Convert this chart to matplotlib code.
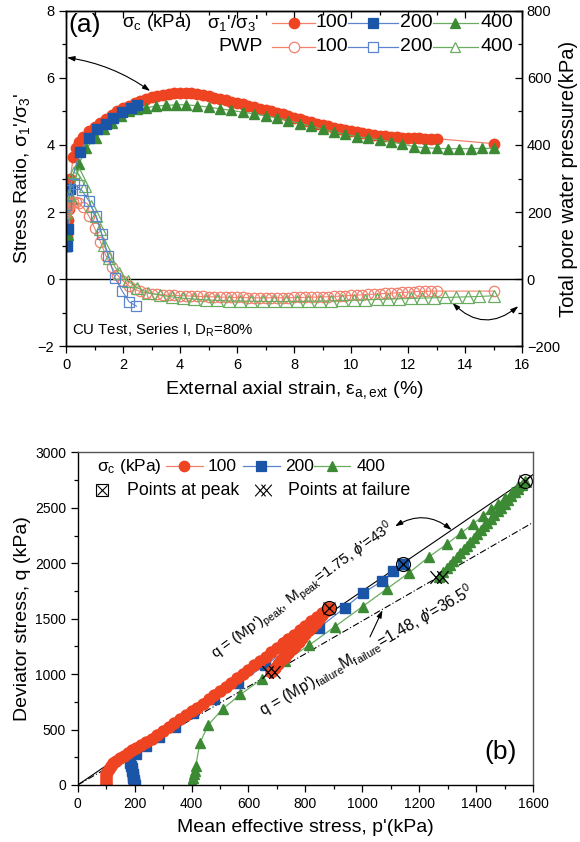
import matplotlib
matplotlib.use("Agg")
import matplotlib.pyplot as plt
from matplotlib.path import Path
from matplotlib.ticker import MultipleLocator

plt.rcParams["font.family"] = ["Liberation Sans", "DejaVu Sans"]
plt.rcParams["mathtext.fontset"] = "custom"
plt.rcParams["mathtext.rm"] = "Liberation Sans"
plt.rcParams["mathtext.it"] = "Liberation Sans:italic"
plt.rcParams["mathtext.bf"] = "Liberation Sans:bold"

# ---------------- data, panel (a) ----------------
# strain (%) for the 100 kPa test, stress ratio and total pore water pressure (kPa)
strain_100 = [0, 0.03, 0.06, 0.1, 0.15, 0.25, 0.35, 0.45, 0.6, 0.8, 1.0,
              1.2, 1.4, 1.6, 1.8, 2.0, 2.2, 2.4, 2.6, 2.8, 3.0,
              3.2, 3.4, 3.6, 3.8, 4.0, 4.2, 4.4, 4.6, 4.8, 5.0,
              5.2, 5.4, 5.6, 5.8, 6.0, 6.2, 6.4, 6.6, 6.8, 7.0,
              7.2, 7.4, 7.6, 7.8, 8.0, 8.2, 8.4, 8.6, 8.8, 9.0,
              9.2, 9.4, 9.6, 9.8, 10.0, 10.2, 10.4, 10.6, 10.8, 11.0,
              11.2, 11.4, 11.6, 11.8, 12.0, 12.2, 12.4, 12.6, 12.8, 13.0,
              15.0]
ratio_100 = [1.0, 1.25, 1.75, 2.1, 3.0, 3.65, 3.92, 4.08, 4.25, 4.42, 4.55,
             4.67, 4.79, 4.9, 5.0, 5.09, 5.17, 5.25, 5.32, 5.38, 5.43,
             5.47, 5.5, 5.53, 5.55, 5.56, 5.56, 5.54, 5.52, 5.49, 5.45,
             5.41, 5.37, 5.33, 5.29, 5.25, 5.21, 5.17, 5.12, 5.08, 5.04,
             5.0, 4.95, 4.91, 4.86, 4.82, 4.77, 4.73, 4.68, 4.64, 4.6,
             4.56, 4.52, 4.48, 4.44, 4.41, 4.38, 4.35, 4.32, 4.3, 4.28,
             4.26, 4.24, 4.23, 4.22, 4.21, 4.2, 4.2, 4.19, 4.19, 4.19,
             4.04]
pwp_100 = [200, 205, 212, 218, 224, 229, 231, 226, 214, 188, 152,
           112, 69, 36, 12, -6, -20, -31, -37, -41, -44,
           -46, -47, -48, -49, -50, -50, -51, -52, -52, -53,
           -53, -54, -54, -55, -55, -55, -56, -56, -56, -56,
           -56, -56, -56, -56, -55, -55, -55, -54, -54, -53,
           -53, -52, -51, -50, -49, -48, -47, -46, -45, -44,
           -43, -42, -41, -40, -39, -38, -37, -37, -36, -36,
           -36]

strain_200 = [0, 0.02, 0.06, 0.12, 0.48, 0.8, 1.09, 1.39, 1.65, 1.97, 2.26, 2.49]
ratio_200 = [1.0, 0.98, 1.48, 2.7, 3.8, 4.22, 4.47, 4.64, 4.8, 4.97, 5.11, 5.19]
strain_pwp_200 = [0, 0.08, 0.29, 0.55, 0.8, 1.04, 1.26, 1.48, 1.71, 1.97, 2.21, 2.47]
pwp_200 = [220, 265, 283, 265, 233, 188, 133, 69, 4, -36, -68, -81]

strain_400 = [0, 0.08, 0.2, 0.44, 0.71, 1.04, 1.32, 1.62, 1.91, 2.19, 2.49, 2.82,
              3.14, 3.5, 3.85, 4.2, 4.6, 5.0, 5.4, 5.8, 6.2, 6.6, 7.0, 7.4, 7.8,
              8.2, 8.6, 9.0, 9.4, 9.8, 10.2, 10.6, 11.0, 11.4, 11.8, 12.2, 12.6,
              13.0, 13.4, 13.8, 14.2, 14.6, 15.0]
ratio_400 = [1.0, 1.3, 2.4, 3.42, 3.92, 4.2, 4.47, 4.67, 4.87, 5.0, 5.06, 5.11,
             5.16, 5.18, 5.2, 5.2, 5.17, 5.13, 5.08, 5.03, 4.98, 4.93, 4.87, 4.81, 4.73,
             4.64, 4.56, 4.47, 4.39, 4.32, 4.25, 4.2, 4.15, 4.1, 4.03, 3.95, 3.92,
             3.9, 3.89, 3.89, 3.89, 3.9, 3.9]
strain_pwp_400 = [0, 0.1, 0.26, 0.44, 0.68, 0.87, 1.06, 1.2, 1.32, 1.52, 1.84, 2.17,
                  2.49, 2.88, 3.3, 3.7, 4.1, 4.5, 4.9, 5.3, 5.7, 6.1, 6.5, 6.9, 7.3,
                  7.7, 8.1, 8.5, 8.9, 9.3, 9.7, 10.1, 10.5, 10.9, 11.3, 11.7, 12.1,
                  12.5, 12.9, 13.3, 13.7, 14.1, 14.5, 15.0]
pwp_400 = [200, 250, 319, 312, 278, 218, 188, 150, 103, 64, 19, -6,
           -26, -41, -48, -53, -57, -60, -62, -64, -65, -66, -66, -67, -67,
           -67, -67, -66, -66, -65, -64, -63, -62, -61, -60, -59, -58,
           -57, -56, -55, -54, -53, -52, -50]

# ---------------- data, panel (b) ----------------
p_100 = [100, 99, 98, 99, 101, 104, 109, 116, 125, 136, 148, 161, 175, 190, 206, 222, 240,
         260, 280, 300, 320, 340, 360, 380, 400, 420, 440, 460, 480, 500, 520, 540, 560,
         580, 600, 620, 640, 660, 680, 700, 720, 740, 760, 780, 800, 820, 840, 860, 884,
         872, 860, 848, 836, 824, 812, 800, 788, 776, 764, 752, 740, 728, 716, 704, 692,
         682, 679]
q_100 = [0, 20, 45, 70, 95, 120, 145, 170, 195, 220, 243, 266, 290, 314, 338, 362, 390,
         419, 454, 489, 523, 558, 592, 627, 664, 699, 735, 773, 811, 850, 887, 923, 963,
         1000, 1038, 1079, 1117, 1155, 1197, 1239, 1278, 1317, 1357, 1396, 1436, 1476, 1512, 1552, 1600,
         1565, 1530, 1496, 1462, 1428, 1394, 1360, 1326, 1292, 1258, 1224, 1190, 1157, 1124, 1091, 1058,
         1030, 1021]
p_200 = [200, 199, 198, 197, 196, 195, 193, 191, 189, 186, 185, 206, 239, 286, 341, 406,
         478, 564, 658, 752, 849, 939, 1003, 1070, 1109, 1142]
q_200 = [0, 15, 30, 45, 60, 80, 100, 125, 150, 175, 201, 279, 354, 435, 525, 646,
         772, 919, 1078, 1252, 1420, 1600, 1733, 1838, 1928, 1997]
p_400 = [400, 401, 403, 405, 408, 411, 415, 429, 458, 509, 572, 648, 729, 813, 904, 1001,
         1088, 1165, 1234, 1296, 1347, 1390, 1423, 1451, 1476, 1501, 1525, 1548, 1572,
         1560, 1548, 1536, 1524, 1512, 1500, 1488, 1476, 1464, 1452, 1440, 1428, 1416,
         1404, 1392, 1380, 1368, 1356, 1344, 1332, 1320, 1308, 1296, 1284, 1272, 1269]
q_400 = [0, 15, 30, 60, 95, 129, 174, 375, 540, 685, 817, 958, 1117, 1261, 1429, 1610,
         1772, 1916, 2057, 2171, 2273, 2357, 2423, 2486, 2537, 2591, 2642, 2694, 2741,
         2707, 2673, 2639, 2605, 2571, 2537, 2503, 2468, 2434, 2400, 2366, 2332, 2298,
         2263, 2229, 2195, 2160, 2126, 2091, 2057, 2022, 1988, 1954, 1920, 1885, 1877]
peak_p = [884, 1142, 1572]
peak_q = [1600, 1997, 2741]
fail_p = [679, 1269]
fail_q = [1021, 1877]
M_peak = 1.75
M_fail = 1.48
p_line = [0, 1600]

RED, RED_L = "#ee4422", "#f2806c"
BLUE, BLUE_L = "#1a55a8", "#5a84cc"
GREEN, GREEN_L = "#3d8a35", "#6aac60"

fail_marker = Path([(-1, -0.7), (0.25, 0.7), (-1, 0.7), (0.25, -0.7),
                    (-0.25, -0.7), (1, 0.7), (-0.25, 0.7), (1, -0.7)],
                   [Path.MOVETO, Path.LINETO] * 4)

fig = plt.figure(figsize=(5.8, 8.42), dpi=100)

# ================= panel (a) =================
ax = fig.add_axes([0.114, 0.589, 0.786, 0.398])
axr = ax.twinx()
ax.set_xlim(0, 16)
ax.set_ylim(-2, 8)
axr.set_ylim(-200, 800)
ax.axhline(0, color="k", lw=1.0)

ax.plot(strain_100, ratio_100, color=RED_L, lw=0.9, marker="o", ms=7.5, mfc=RED, mec=RED)
ax.plot(strain_400, ratio_400, color=GREEN_L, lw=0.9, marker="^", ms=7.5, mfc=GREEN, mec=GREEN)
ax.plot(strain_200, ratio_200, color=BLUE_L, lw=0.9, marker="s", ms=6.5, mfc=BLUE, mec=BLUE)

axr.plot(strain_100, pwp_100, color=RED_L, lw=0.8, marker="o", ms=7.5, mfc="none", mec=RED_L, mew=0.9)
axr.plot(strain_pwp_400, pwp_400, color=GREEN_L, lw=0.8, marker="^", ms=8.5, mfc="none", mec=GREEN_L, mew=0.9)
axr.plot(strain_pwp_200, pwp_200, color=BLUE_L, lw=0.8, marker="s", ms=7, mfc="none", mec=BLUE_L, mew=0.9)

ax.xaxis.set_major_locator(MultipleLocator(2))
ax.xaxis.set_minor_locator(MultipleLocator(1))
ax.yaxis.set_major_locator(MultipleLocator(2))
ax.yaxis.set_minor_locator(MultipleLocator(1))
axr.yaxis.set_major_locator(MultipleLocator(200))
axr.yaxis.set_minor_locator(MultipleLocator(100))
ax.tick_params(which="both", direction="out", labelsize=10.5, width=0.9)
ax.tick_params(which="major", length=5)
ax.tick_params(which="minor", length=3)
axr.tick_params(which="both", direction="in", labelsize=10.5, width=0.9)
axr.tick_params(which="major", length=5)
axr.tick_params(which="minor", length=3)
top = ax.secondary_xaxis("top")
top.xaxis.set_major_locator(MultipleLocator(2))
top.xaxis.set_minor_locator(MultipleLocator(1))
top.tick_params(which="both", direction="in", labeltop=False, width=0.9)
top.tick_params(which="major", length=5)
top.tick_params(which="minor", length=3)
for a in (ax, axr):
    for s in a.spines.values():
        s.set_linewidth(1.0)

ax.set_xlabel("External axial strain, ε$_\\mathrm{a,ext}$ (%)", fontsize=14)
ax.xaxis.set_label_coords(0.501, -0.1)
ax.set_ylabel("Stress Ratio, σ$_1$'/σ$_3$'", fontsize=14)
ax.yaxis.set_label_coords(-0.075, 0.5)
axr.set_ylabel("Total pore water pressure(kPa)", fontsize=14.5, rotation=90)
axr.yaxis.set_label_coords(1.081, 0.5)

ax.text(0.005, 0.958, "(a)", transform=ax.transAxes, fontsize=19, va="center", ha="left")
ax.text(0.2, -1.52, "CU Test, Series I, D$_\\mathrm{R}$=80%", fontsize=10.8, va="center")

ax.annotate("", xy=(0.03, 6.61), xytext=(2.95, 5.61),
            arrowprops=dict(arrowstyle="<|-|>,head_length=0.45,head_width=0.15",
                            color="k", lw=0.8, connectionstyle="arc3,rad=0.12",
                            shrinkA=0, shrinkB=0))
ax.annotate("", xy=(15.87, -0.81), xytext=(13.56, -0.71),
            arrowprops=dict(arrowstyle="<|-|>,head_length=0.45,head_width=0.15",
                            color="k", lw=0.8, connectionstyle="arc3,rad=0.45",
                            shrinkA=0, shrinkB=0))


def sample(axis, x0, x1, y, color, lcolor, marker, filled, ms=7.5):
    axis.plot([x0, x1], [y, y], color=lcolor, lw=0.9, transform=axis.transAxes, clip_on=False)
    axis.plot([(x0 + x1) / 2], [y], ls="none", marker=marker, ms=ms,
              mfc=color if filled else "white", mec=color, mew=0.9,
              transform=axis.transAxes, clip_on=False)


# legend (a)
y1, y2 = 0.965, 0.893
axr.text(0.123, y1, "σ$_\\mathrm{c}$ (kPa)", transform=ax.transAxes, fontsize=13.5, va="center")
axr.text(0.309, y1, "σ$_1$'/σ$_3$'", transform=ax.transAxes, fontsize=13.5, va="center")
axr.text(0.432, y2, "PWP", transform=ax.transAxes, fontsize=14, va="center", ha="right")
leg_x = [(0.452, 0.546), (0.618, 0.728), (0.805, 0.903)]
leg_txt = [0.546, 0.732, 0.908]
leg_lab = ["100", "200", "400"]
leg_col = [(RED, RED_L, "o"), (BLUE, BLUE_L, "s"), (GREEN, GREEN_L, "^")]
for (x0, x1), xt, lab, (c, lc, m) in zip(leg_x, leg_txt, leg_lab, leg_col):
    sample(axr, x0, x1, y1, c, lc, m, True)
    sample(axr, x0, x1, y2, lc, lc, m, False)
    axr.text(xt, y1, lab, transform=ax.transAxes, fontsize=14, va="center")
    axr.text(xt, y2, lab, transform=ax.transAxes, fontsize=14, va="center")

# ================= panel (b) =================
bx = fig.add_axes([0.134, 0.0677, 0.785, 0.395])
bx.set_xlim(0, 1600)
bx.set_ylim(0, 3000)

bx.plot(p_line, [M_peak * p for p in p_line], color="k", lw=0.8)
bx.plot(p_line, [M_fail * p for p in p_line], color="k", lw=0.8, ls=(0, (6, 2, 1, 2)))

bx.plot(p_400, q_400, color=GREEN_L, lw=0.9, marker="^", ms=7.5, mfc=GREEN, mec=GREEN)
bx.plot(p_200, q_200, color=BLUE_L, lw=0.9, marker="s", ms=7, mfc=BLUE, mec=BLUE)
bx.plot(p_100, q_100, color=RED_L, lw=0.9, marker="o", ms=8, mfc=RED, mec=RED)

bx.plot(peak_p, peak_q, ls="none", marker="o", ms=10, mfc="none", mec="k", mew=0.9)
bx.plot(peak_p, peak_q, ls="none", marker="x", ms=8, mec="k", mew=0.9)
bx.plot(fail_p, fail_q, ls="none", marker=fail_marker, ms=13, mfc="none", mec="k", mew=0.9)

bx.xaxis.set_major_locator(MultipleLocator(200))
bx.xaxis.set_minor_locator(MultipleLocator(100))
bx.yaxis.set_major_locator(MultipleLocator(500))
bx.yaxis.set_minor_locator(MultipleLocator(250))
bx.tick_params(which="both", direction="out", labelsize=10, width=0.9)
bx.tick_params(which="major", length=5)
bx.tick_params(which="minor", length=3)
for s in bx.spines.values():
    s.set_linewidth(1.0)
bx.spines["right"].set_color("#555555")
bx.spines["top"].set_color("#555555")

bx.set_xlabel("Mean effective stress, p'(kPa)", fontsize=14)
bx.xaxis.set_label_coords(0.501, -0.102)
bx.set_ylabel("Deviator stress, q (kPa)", fontsize=14)
bx.yaxis.set_label_coords(-0.103, 0.5)

bx.text(0.965, 0.1, "(b)", transform=bx.transAxes, fontsize=19, ha="right", va="center")

bx.text(791, 1748, "q = (Mp')$_\\mathrm{peak}$, M$_\\mathrm{peak}$=1.75, $\\phi$'=43$^\\mathrm{0}$",
        fontsize=11, rotation=36, ha="center", va="center", rotation_mode="anchor")
bx.text(1016, 1216, "q = (Mp')$_\\mathrm{failure}$M$_\\mathrm{failure}$=1.48, $\\phi$'=36.5$^\\mathrm{0}$",
        fontsize=11.3, rotation=30, ha="center", va="center", rotation_mode="anchor")

bx.annotate("", xy=(1115, 2333), xytext=(1314, 2300),
            arrowprops=dict(arrowstyle="<|-|>,head_length=0.45,head_width=0.15",
                            color="k", lw=0.8, connectionstyle="arc3,rad=0.35",
                            shrinkA=0, shrinkB=0))
bx.annotate("", xy=(1071, 1577), xytext=(1027, 1336),
            arrowprops=dict(arrowstyle="-|>,head_length=0.45,head_width=0.15",
                            color="k", lw=0.8, shrinkA=0, shrinkB=0))

# legend (b)
z1, z2 = 0.958, 0.886
bx.text(0.042, z1, "σ$_\\mathrm{c}$ (kPa)", transform=bx.transAxes, fontsize=12.5, va="center")
sample(bx, 0.193, 0.275, z1, RED, RED_L, "o", True)
bx.text(0.285, z1, "100", transform=bx.transAxes, fontsize=12.5, va="center")
sample(bx, 0.363, 0.444, z1, BLUE, BLUE_L, "s", True)
bx.text(0.455, z1, "200", transform=bx.transAxes, fontsize=12.5, va="center")
sample(bx, 0.518, 0.598, z1, GREEN, GREEN_L, "^", True)
bx.text(0.613, z1, "400", transform=bx.transAxes, fontsize=12.5, va="center")

bx.plot([0.053], [z2], ls="none", marker="s", ms=8, mfc="none", mec="k", mew=0.8,
        transform=bx.transAxes, clip_on=False)
bx.plot([0.053], [z2], ls="none", marker="x", ms=7, mec="k", mew=0.8,
        transform=bx.transAxes, clip_on=False)
bx.text(0.108, z2, "Points at peak", transform=bx.transAxes, fontsize=12.8, va="center")
bx.plot([0.407], [z2], ls="none", marker=fail_marker, ms=12, mfc="none", mec="k", mew=0.8,
        transform=bx.transAxes, clip_on=False)
bx.text(0.462, z2, "Points at failure", transform=bx.transAxes, fontsize=12.8, va="center")

fig.savefig("out.png", dpi=100)
